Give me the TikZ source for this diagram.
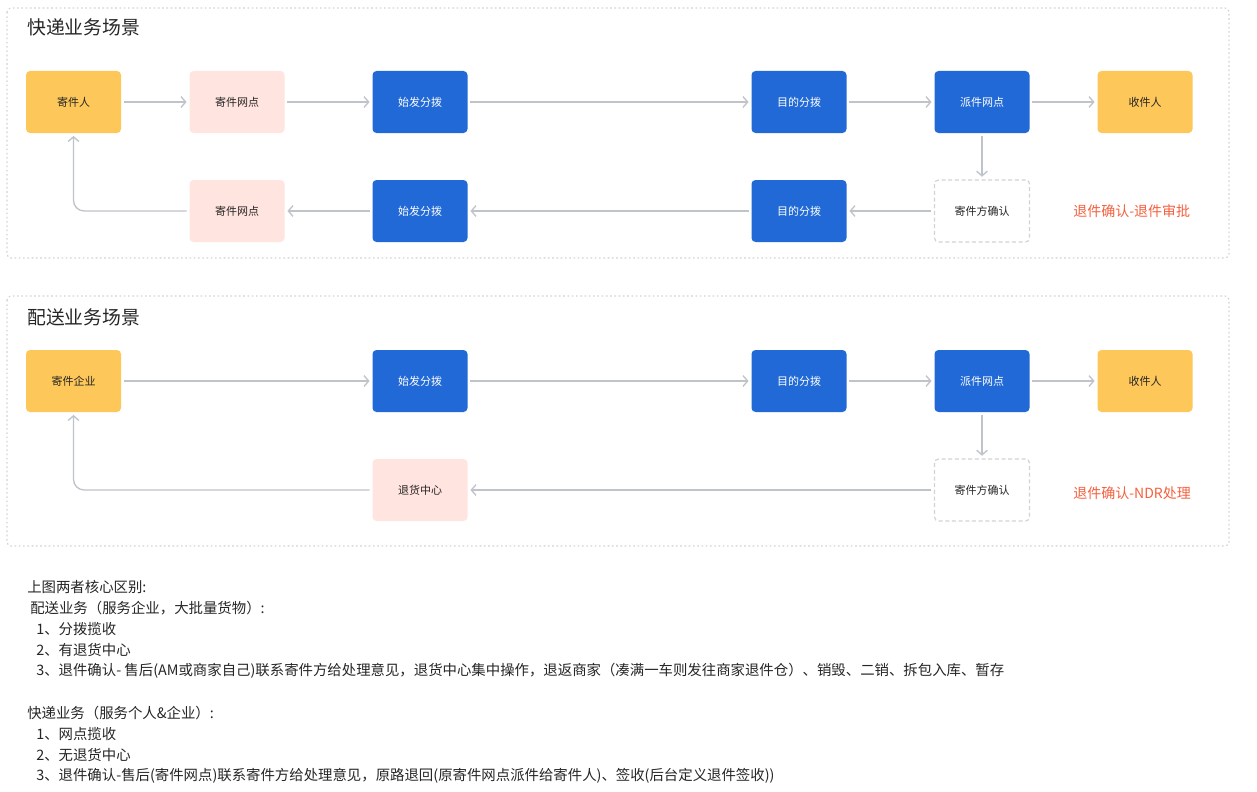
\documentclass[tikz,border=0pt]{standalone}
\usepackage{fontspec}
\setmainfont{Noto Sans CJK SC}
\usetikzlibrary{arrows.meta}
\definecolor{cyellow}{HTML}{FDC75A}
\definecolor{cpink}{HTML}{FFE4DF}
\definecolor{cblue}{HTML}{2169D6}
\definecolor{cred}{HTML}{F4603E}
\definecolor{cline}{HTML}{BFC3CA}
\definecolor{cframe}{HTML}{D3D3D3}
\definecolor{ctext}{HTML}{262626}
\tikzset{
  box/.style={rectangle, rounded corners=3pt, minimum width=71.25pt, minimum height=46.5pt, inner sep=0pt, font=\fontsize{8.25}{10}\selectfont},
  ybox/.style={box, fill=cyellow, text=ctext},
  pbox/.style={box, fill=cpink, text=ctext},
  bbox/.style={box, fill=cblue, text=white},
  dbox/.style={box, draw=cframe, dashed, line width=0.9pt, dash pattern=on 3pt off 2pt, fill=white, text=ctext},
  arr/.style={draw=cline, line width=1pt, -{Straight Barb[length=3.5pt,width=8pt,line width=1pt]}, shorten >=2pt, shorten <=2pt},
  frame/.style={draw=cframe, line width=0.9pt, dash pattern=on 1.2pt off 2pt, rounded corners=3pt},
  title/.style={anchor=west, inner sep=0pt, text=ctext, font=\fontsize{14.1}{17}\selectfont},
  note/.style={anchor=west, inner sep=0pt, text=ctext, font=\fontsize{10.8}{13}\selectfont},
  redt/.style={anchor=west, inner sep=0pt, text=cred, font=\fontsize{10.5}{12}\selectfont}
}
\begin{document}
\begin{tikzpicture}[x=0.75pt,y=-0.75pt]
\useasboundingbox[fill=white] (0,0) rectangle (1257,792);
% frames
\draw[frame] (7,8) rectangle (1229,258);
\draw[frame] (7,296) rectangle (1229,546);
% titles
\node[title] (t1) at (27,27) {快递业务场景};
\node[title] (t2) at (27,317) {配送业务场景};
% scene 1 row 1
\node[ybox] (a1) at (73.5,102) {寄件人};
\node[pbox] (a2) at (237,102) {寄件网点};
\node[bbox] (a3) at (420,102) {始发分拨};
\node[bbox] (a4) at (799,102) {目的分拨};
\node[bbox] (a5) at (982,102) {派件网点};
\node[ybox] (a6) at (1145,102) {收件人};
% scene 1 row 2
\node[pbox] (b2) at (237,211) {寄件网点};
\node[bbox] (b3) at (420,211) {始发分拨};
\node[bbox] (b4) at (799,211) {目的分拨};
\node[dbox] (b5) at (982,211) {寄件方确认};
\node[redt] (r1) at (1073,211) {退件确认-退件审批};
\draw[arr] (a1) -- (a2);
\draw[arr] (a2) -- (a3);
\draw[arr] (a3) -- (a4);
\draw[arr] (a4) -- (a5);
\draw[arr] (a5) -- (a6);
\draw[arr] (a5) -- (b5);
\draw[arr] (b5) -- (b4);
\draw[arr] (b4) -- (b3);
\draw[arr] (b3) -- (b2);
\draw[arr, rounded corners=8pt] (b2.west) -| (a1.south);
% scene 2 row 1
\node[ybox] (c1) at (73.5,381) {寄件企业};
\node[bbox] (c3) at (420,381) {始发分拨};
\node[bbox] (c4) at (799,381) {目的分拨};
\node[bbox] (c5) at (982,381) {派件网点};
\node[ybox] (c6) at (1145,381) {收件人};
% scene 2 row 2
\node[pbox] (d3) at (420,490) {退货中心};
\node[dbox] (d5) at (982,490) {寄件方确认};
\node[redt] (r2) at (1073,493) {退件确认-NDR处理};
\draw[arr] (c1) -- (c3);
\draw[arr] (c3) -- (c4);
\draw[arr] (c4) -- (c5);
\draw[arr] (c5) -- (c6);
\draw[arr] (c5) -- (d5);
\draw[arr] (d5) -- (d3);
\draw[arr, rounded corners=8pt] (d3.west) -| (c1.south);
% notes
\node[note] (n1) at (27,587) {上图两者核心区别:};
\node[note] (n2) at (30,608) {配送业务（服务企业，大批量货物）:};
\node[note] (n3) at (36,629) {1、分拨揽收};
\node[note] (n4) at (36,650) {2、有退货中心};
\node[note] (n5) at (36,671) {3、退件确认- 售后(AM或商家自己)联系寄件方给处理意见，退货中心集中操作，退返商家（凑满一车则发往商家退件仓）、销毁、二销、拆包入库、暂存};
\node[note] (n6) at (27,713) {快递业务（服务个人\&企业）:};
\node[note] (n7) at (36,734) {1、网点揽收};
\node[note] (n8) at (36,755) {2、无退货中心};
\node[note] (n9) at (36,776) {3、退件确认-售后(寄件网点)联系寄件方给处理意见，原路退回(原寄件网点派件给寄件人)、签收(后台定义退件签收))};
\end{tikzpicture}
\end{document}
